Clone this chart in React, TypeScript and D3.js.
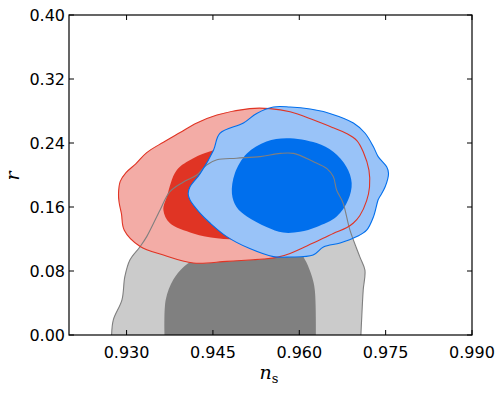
import React from "react";
import * as d3 from "d3";

// contour vertices, [n_s, r]
const grayOuter: [number, number][] = [
  [0.9274, 0], [0.9277, 0.019], [0.9292, 0.044], [0.9297, 0.073], [0.9306, 0.094],
  [0.9323, 0.11], [0.9335, 0.123], [0.9358, 0.156], [0.9375, 0.179], [0.9398, 0.191],
  [0.9422, 0.2], [0.9439, 0.2125], [0.9457, 0.219], [0.9491, 0.221], [0.9532, 0.223],
  [0.9567, 0.227], [0.959, 0.227], [0.9624, 0.217], [0.9648, 0.208], [0.9659, 0.198],
  [0.9665, 0.181], [0.9676, 0.165], [0.9688, 0.131], [0.9705, 0.098], [0.9714, 0.081],
  [0.9711, 0.056], [0.9708, 0.015], [0.9707, 0],
];
const grayInner: [number, number][] = [
  [0.9366, 0], [0.9368, 0.044], [0.9381, 0.069], [0.9399, 0.085], [0.9416, 0.094],
  [0.9445, 0.1125], [0.9497, 0.125], [0.9558, 0.1275], [0.9601, 0.1125], [0.9607, 0.098],
  [0.9613, 0.09], [0.9622, 0.073], [0.9627, 0.056], [0.9629, 0],
];
const redOuter: [number, number][] = [
  [0.9286, 0.177], [0.9289, 0.192], [0.9299, 0.203], [0.9316, 0.214], [0.9335, 0.228],
  [0.9364, 0.241], [0.9393, 0.253], [0.9422, 0.265], [0.9457, 0.275], [0.9514, 0.283],
  [0.9549, 0.283], [0.9584, 0.279], [0.9624, 0.269], [0.9659, 0.259], [0.9682, 0.252],
  [0.97, 0.243], [0.9711, 0.229], [0.9721, 0.206], [0.9722, 0.185], [0.9717, 0.168],
  [0.9705, 0.149], [0.9694, 0.14], [0.9682, 0.134], [0.9659, 0.127], [0.9624, 0.115],
  [0.9584, 0.102], [0.9561, 0.097], [0.9538, 0.095], [0.952, 0.094], [0.9474, 0.092],
  [0.9416, 0.09], [0.9364, 0.1], [0.9323, 0.111], [0.9296, 0.131], [0.9291, 0.152],
  [0.9287, 0.166],
];
const redInner: [number, number][] = [
  [0.9364, 0.156], [0.937, 0.173], [0.9387, 0.206], [0.9416, 0.221], [0.9451, 0.231],
  [0.9497, 0.2375], [0.9549, 0.234], [0.9575, 0.2125], [0.9575, 0.169], [0.9549, 0.1375],
  [0.9497, 0.121], [0.9457, 0.121], [0.9416, 0.127], [0.9375, 0.14],
];
const blueOuter: [number, number][] = [
  [0.9407, 0.177], [0.941, 0.185], [0.9428, 0.202], [0.9451, 0.231], [0.9462, 0.252],
  [0.9503, 0.265], [0.9526, 0.277], [0.9555, 0.285], [0.9584, 0.285], [0.9619, 0.2825],
  [0.9653, 0.277], [0.9694, 0.265], [0.9714, 0.2525], [0.9729, 0.235], [0.9737, 0.223],
  [0.9752, 0.21], [0.9755, 0.202], [0.9749, 0.185], [0.974, 0.173], [0.9737, 0.169],
  [0.9729, 0.148], [0.9717, 0.131], [0.97, 0.123], [0.9671, 0.115], [0.9642, 0.11],
  [0.9624, 0.1], [0.9584, 0.0975], [0.9555, 0.098], [0.9514, 0.108], [0.9474, 0.123],
  [0.9445, 0.14], [0.9428, 0.152], [0.941, 0.169],
];
const blueInner: [number, number][] = [
  [0.9483, 0.177], [0.9488, 0.202], [0.9509, 0.227], [0.9543, 0.242], [0.9578, 0.246],
  [0.963, 0.24], [0.9659, 0.229], [0.9682, 0.21], [0.9691, 0.19], [0.9685, 0.169],
  [0.9665, 0.148], [0.963, 0.135], [0.9601, 0.129], [0.9572, 0.128], [0.9543, 0.135],
  [0.9509, 0.148], [0.9491, 0.16],
];

const xTicks = [0.93, 0.945, 0.96, 0.975, 0.99];
const yTicks = [0, 0.08, 0.16, 0.24, 0.32, 0.4];

const W = 504;
const H = 396;
const margin = { top: 15, right: 32, bottom: 61, left: 69 };

export default function App() {
  const iw = W - margin.left - margin.right;
  const ih = H - margin.top - margin.bottom;
  const x = d3.scaleLinear().domain([0.92, 0.99]).range([0, iw]);
  const y = d3.scaleLinear().domain([0, 0.4]).range([ih, 0]);

  const closed = d3
    .line<[number, number]>()
    .x((d) => x(d[0]))
    .y((d) => y(d[1]))
    .curve(d3.curveCatmullRomClosed.alpha(0.5));
  const open = d3
    .line<[number, number]>()
    .x((d) => x(d[0]))
    .y((d) => y(d[1]))
    .curve(d3.curveCatmullRom.alpha(0.5));

  const font = "'DejaVu Sans', sans-serif";

  return (
    <svg
      width={W}
      height={H}
      style={{ position: "absolute", left: 0, top: 0, background: "#fff" }}
    >
      <defs>
        <clipPath id="plot">
          <rect width={iw} height={ih} />
        </clipPath>
      </defs>
      <g transform={`translate(${margin.left},${margin.top})`}>
        <g clipPath="url(#plot)">
          {/* fills */}
          <path d={open(grayOuter)!} fill="#cbcbcb" />
          <path d={open(grayInner)!} fill="#808080" />
          <path d={closed(redOuter)!} fill="#f3aca6" />
          <path d={closed(redInner)!} fill="#e03424" />
          <path d={closed(blueOuter)!} fill="#99c3f8" />
          <path d={closed(blueInner)!} fill="#006fed" />
          {/* outer contour lines on top */}
          <path d={open(grayOuter)!} fill="none" stroke="#7f7f7f" strokeWidth={1.1} />
          <path d={closed(redOuter)!} fill="none" stroke="#e03424" strokeWidth={1.1} />
          <path d={closed(blueOuter)!} fill="none" stroke="#006fed" strokeWidth={1.1} />
        </g>

        {/* ticks, inward on all sides */}
        {xTicks.map((t) => (
          <g key={"x" + t}>
            <line x1={x(t)} x2={x(t)} y1={ih} y2={ih - 5} stroke="#000" />
            <line x1={x(t)} x2={x(t)} y1={0} y2={5} stroke="#000" />
            <text
              x={x(t)}
              y={ih + 23}
              textAnchor="middle"
              fontFamily={font}
              fontSize={16}
            >
              {d3.format(".3f")(t)}
            </text>
          </g>
        ))}
        {yTicks.map((t) => (
          <g key={"y" + t}>
            <line x1={0} x2={5} y1={y(t)} y2={y(t)} stroke="#000" />
            <line x1={iw} x2={iw - 5} y1={y(t)} y2={y(t)} stroke="#000" />
            <text
              x={-4}
              y={y(t)}
              dy="0.36em"
              textAnchor="end"
              fontFamily={font}
              fontSize={16}
            >
              {d3.format(".2f")(t)}
            </text>
          </g>
        ))}
        <rect width={iw} height={ih} fill="none" stroke="#000" strokeWidth={1.2} />
      </g>

      {/* axis labels */}
      <text
        x={269}
        y={379}
        textAnchor="middle"
        fontFamily="'DejaVu Serif', serif"
        fontSize={19}
      >
        <tspan fontStyle="italic">n</tspan>
        <tspan fontSize={13} dy={4}>s</tspan>
      </text>
      <text
        transform="translate(19,176) rotate(-90)"
        textAnchor="middle"
        fontFamily="'DejaVu Serif', serif"
        fontStyle="italic"
        fontSize={19}
      >
        r
      </text>
    </svg>
  );
}
